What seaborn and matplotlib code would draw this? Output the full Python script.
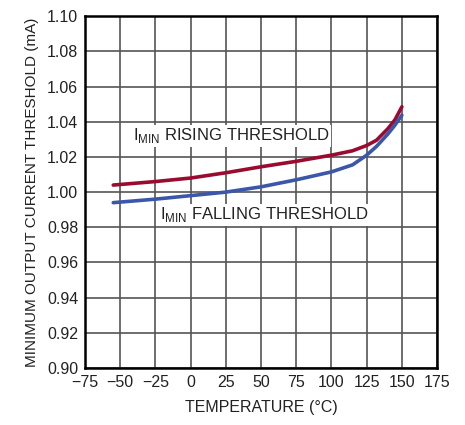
import matplotlib
matplotlib.use("Agg")
import matplotlib.pyplot as plt
import numpy as np
import pandas as pd
import seaborn as sns

# values
temp_c = [-55, -25, 0, 25, 50, 75, 100, 115, 125, 132, 140, 145, 150]
rising_ma = [1.004, 1.006, 1.008, 1.011, 1.0144, 1.0175, 1.021, 1.0235, 1.0265, 1.0295, 1.036, 1.041, 1.0485]
falling_ma = [0.994, 0.996, 0.998, 1.000, 1.003, 1.007, 1.0115, 1.0155, 1.021, 1.026, 1.033, 1.038, 1.0437]

series_names = ["rising", "falling"]
series_colors = {"rising": "#9a0b30", "falling": "#3b57aa"}
label_text = ["I$_{\\mathrm{MIN}}$ RISING THRESHOLD", "I$_{\\mathrm{MIN}}$ FALLING THRESHOLD"]
label_pos = [(-41, 1.032), (-22, 0.987)]

x_ticks = [-75, -50, -25, 0, 25, 50, 75, 100, 125, 150, 175]
y_ticks = [0.90, 0.92, 0.94, 0.96, 0.98, 1.00, 1.02, 1.04, 1.06, 1.08, 1.10]

sns.set_theme(style="white")
plt.rcParams['font.family'] = ['Liberation Sans', 'DejaVu Sans']
plt.rcParams['mathtext.fontset'] = 'custom'
plt.rcParams['mathtext.rm'] = 'Liberation Sans'
plt.rcParams['axes.unicode_minus'] = True

df = pd.DataFrame({
    "temp": temp_c * 2,
    "current": rising_ma + falling_ma,
    "series": [series_names[0]] * len(temp_c) + [series_names[1]] * len(temp_c),
})

fig = plt.figure(figsize=(4.65, 4.25), dpi=100)
ax = fig.add_axes([0.183, 0.134, 0.757, 0.828])

sns.lineplot(data=df, x="temp", y="current", hue="series", palette=series_colors,
             linewidth=2.6, legend=False, ax=ax, zorder=3)

ax.set_xlim(-75, 175)
ax.set_ylim(0.90, 1.10)
ax.set_xticks(x_ticks)
ax.set_yticks(y_ticks)
ax.set_yticklabels([f"{v:.2f}" for v in y_ticks])
ax.tick_params(axis="both", labelsize=11.5, length=0, pad=5, colors="#222222")
ax.grid(True, color="#555555", linewidth=1.2)
for sp in ax.spines.values():
    sp.set_color("black")
    sp.set_linewidth(1.8)

ax.set_xlabel("TEMPERATURE (°C)", fontsize=11.5, color="#222222", labelpad=7)
ax.set_ylabel("MINIMUM OUTPUT CURRENT THRESHOLD (mA)", fontsize=11, color="#222222", labelpad=6)

for txt, (tx, ty) in zip(label_text, label_pos):
    ax.text(tx, ty, txt, fontsize=12, color="#222222", va="center", ha="left", zorder=4,
            bbox=dict(facecolor="white", edgecolor="none", pad=1))

fig.savefig("out.png", dpi=100)
